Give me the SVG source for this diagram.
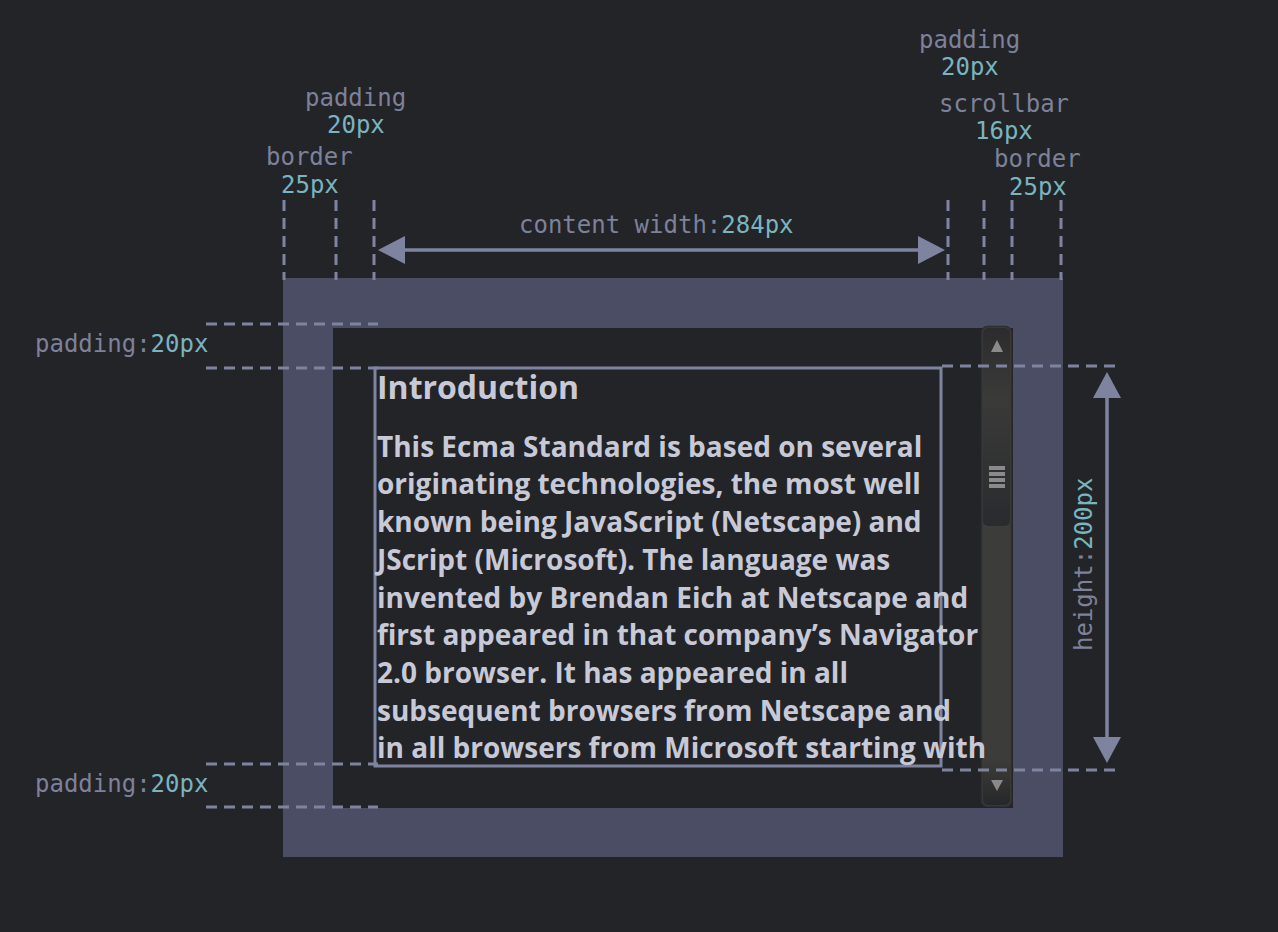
<svg xmlns="http://www.w3.org/2000/svg" width="1278" height="932" viewBox="0 0 1278 932">
<defs>
<style>
.lbl{font-family:"DejaVu Sans Mono","Liberation Mono",monospace;font-size:24px;fill:#7d8199}
.num{fill:#7ab4bf}
.dash{stroke:#7e84a0;stroke-width:3;stroke-dasharray:11 7;fill:none}
.body{font-family:"Open Sans","Noto Sans",sans-serif;font-weight:700;font-size:28px;fill:#c8c9d7}
.arrow{stroke:#7e84a0;stroke-width:3.5;fill:none}
.head{fill:#7e84a0}
.grip{fill:#8a8a8a}
</style>
<linearGradient id="thumb" x1="0" y1="0" x2="0" y2="1">
<stop offset="0" stop-color="#2c2c2e"/>
<stop offset="0.35" stop-color="#3a3a39"/>
<stop offset="1" stop-color="#2a2b2e"/>
</linearGradient>
<linearGradient id="trackEnd" x1="0" y1="0" x2="0" y2="1">
<stop offset="0" stop-color="#3c3c3a"/>
<stop offset="1" stop-color="#262729"/>
</linearGradient>
</defs>
<rect width="1278" height="932" fill="#232428"/>

<g id="box">
<rect x="283" y="278" width="780" height="579" fill="#4a4d63"/>
<rect x="333" y="328" width="680" height="480" fill="#232428"/>
</g>

<g id="scrollbar">
<rect x="981.5" y="326.5" width="30" height="480" rx="6" fill="#3c3c3a" stroke="#2e2f30" stroke-width="1.5"/>
<rect x="983" y="328" width="27" height="198" rx="5" fill="url(#thumb)"/>
<rect x="983" y="760" width="27" height="45" rx="5" fill="url(#trackEnd)"/>
<polygon points="997,340 1003,352 991,352" class="grip"/>
<polygon points="991,780 1003,780 997,791" class="grip"/>
<rect x="989" y="466" width="16" height="4" class="grip"/>
<rect x="989" y="472" width="16" height="4" class="grip"/>
<rect x="989" y="478" width="16" height="4" class="grip"/>
<rect x="989" y="484" width="16" height="4" class="grip"/>
</g>

<g id="content-box">
<rect x="375" y="368" width="566" height="398" fill="none" stroke="#7e84a0" stroke-width="3"/>
</g>

<g id="content-text" class="body">
<text x="377" y="399" font-size="32">Introduction</text>
<text x="377" y="456.7">This Ecma Standard is based on several</text>
<text x="377" y="494.4">originating technologies, the most well</text>
<text x="377" y="532.1">known being JavaScript (Netscape) and</text>
<text x="377" y="569.8">JScript (Microsoft). The language was</text>
<text x="377" y="607.5">invented by Brendan Eich at Netscape and</text>
<text x="377" y="645.2">first appeared in that company’s Navigator</text>
<text x="377" y="682.9">2.0 browser. It has appeared in all</text>
<text x="377" y="720.6">subsequent browsers from Netscape and</text>
<text x="377" y="758.3">in all browsers from Microsoft starting with</text>
</g>

<g id="connectors">
<line x1="284" y1="200" x2="284" y2="280" class="dash"/>
<line x1="336" y1="200" x2="336" y2="280" class="dash"/>
<line x1="374" y1="200" x2="374" y2="280" class="dash"/>
<line x1="948" y1="200" x2="948" y2="280" class="dash"/>
<line x1="984" y1="200" x2="984" y2="280" class="dash"/>
<line x1="1012" y1="200" x2="1012" y2="280" class="dash"/>
<line x1="1061" y1="200" x2="1061" y2="280" class="dash"/>
<line x1="206" y1="324" x2="378" y2="324" class="dash"/>
<line x1="206" y1="368" x2="378" y2="368" class="dash"/>
<line x1="206" y1="764" x2="378" y2="764" class="dash"/>
<line x1="206" y1="807" x2="378" y2="807" class="dash"/>
<line x1="942" y1="366" x2="1115" y2="366" class="dash"/>
<line x1="942" y1="770" x2="1115" y2="770" class="dash"/>
<line x1="400" y1="250" x2="920" y2="250" class="arrow"/>
<polygon points="378,250 405,236 405,264" class="head"/>
<polygon points="945,250 918,236 918,264" class="head"/>
<line x1="1107" y1="395" x2="1107" y2="740" class="arrow"/>
<polygon points="1107,372 1093,398 1121,398" class="head"/>
<polygon points="1107,763 1093,737 1121,737" class="head"/>
</g>

<g id="labels" class="lbl">
<text x="305" y="106">padding</text>
<text x="327" y="133" class="num">20px</text>
<text x="266" y="165">border</text>
<text x="281" y="193" class="num">25px</text>
<text x="919" y="48">padding</text>
<text x="941" y="75" class="num">20px</text>
<text x="939" y="112">scrollbar</text>
<text x="975" y="139" class="num">16px</text>
<text x="994" y="167">border</text>
<text x="1009" y="195" class="num">25px</text>
<text x="519" y="233">content width:<tspan class="num">284px</tspan></text>
<text x="35" y="352">padding:<tspan class="num">20px</tspan></text>
<text x="35" y="792">padding:<tspan class="num">20px</tspan></text>
<text transform="translate(1092,651) rotate(-90)">height:<tspan class="num">200px</tspan></text>
</g>
</svg>
